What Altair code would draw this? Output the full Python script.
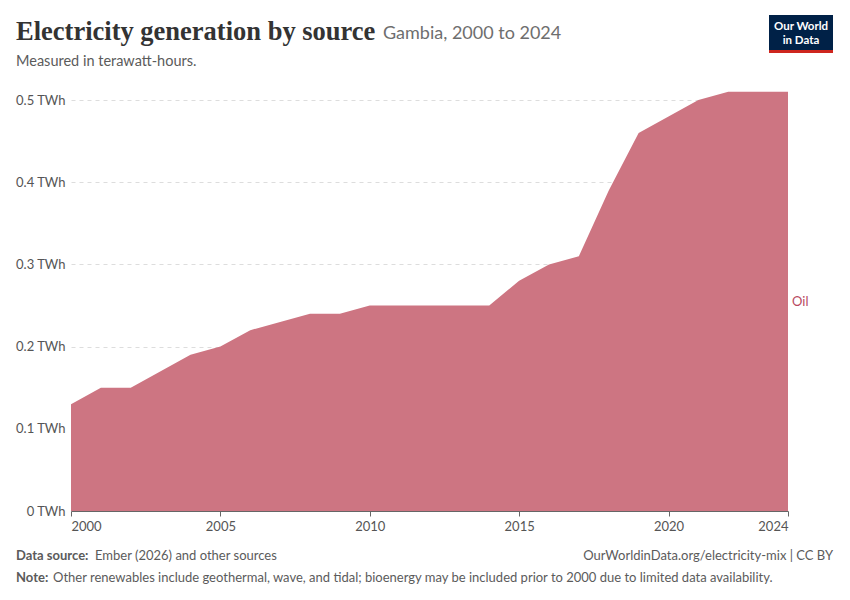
import altair as alt
import pandas as pd

years = list(range(2000, 2025))
oil = [0.13, 0.15, 0.15, 0.17, 0.19, 0.20, 0.22, 0.23, 0.24, 0.24, 0.25, 0.25, 0.25,
       0.25, 0.25, 0.28, 0.30, 0.31, 0.39, 0.46, 0.48, 0.50, 0.51, 0.51, 0.51]
xticks = [2000, 2005, 2010, 2015, 2020, 2024]
yticks = [0, 0.1, 0.2, 0.3, 0.4, 0.5]

df = pd.DataFrame({"year": years, "oil": oil})
W, H = 717, 411

base = alt.Chart(df)
area = base.mark_area(color="#cd7582", opacity=1).encode(
    x=alt.X("year:Q", scale=alt.Scale(domain=[2000, 2024], nice=False),
            axis=alt.Axis(values=xticks, format="d", title=None, grid=False,
                          domainColor="#666", tickColor="#666", labelColor="#555",
                          labelFont="Lato", labelFontSize=13, labelPadding=4,
                          labelFlush=True)),
    y=alt.Y("oil:Q", scale=alt.Scale(domain=[0, 0.5]),
            axis=alt.Axis(values=yticks, labelExpr="datum.value + ' TWh'", title=None,
                          domain=False, ticks=False, gridDash=[4, 4], gridColor="#ddd",
                          labelColor="#555", labelFont="Lato", labelFontSize=13,
                          labelPadding=6)),
)

def txt(s, x, y, size=13, color="#555", font="Lato", weight="normal", align="left"):
    return alt.Chart(pd.DataFrame({"t": [s]})).mark_text(
        text=s, fontSize=size, color=color, font=font, fontWeight=weight, align=align,
        baseline="alphabetic").encode(x=alt.value(x), y=alt.value(y))

layers = [
    area,
    txt("Electricity generation by source", -55, -60, 26.5, "#333", "Liberation Serif", "bold"),
    txt("Gambia, 2000 to 2024", 312, -61, 18, "#6e6e6e"),
    txt("Measured in terawatt-hours.", -55, -34, 14.5, "#5b5b5b"),
    txt("Oil", 721, 206, 13, "#b84a5f"),
    txt("Data source:", -55, 460, 13, "#5b5b5b", weight="bold"),
    txt("Ember (2026) and other sources", 24, 460, 13, "#5b5b5b"),
    txt("OurWorldinData.org/electricity-mix | CC BY", 762, 460, 13, "#5b5b5b", align="right"),
    txt("Note:", -55, 482, 13, "#5b5b5b", weight="bold"),
    txt("Other renewables include geothermal, wave, and tidal; bioenergy may be included prior to 2000 due to limited data availability.", -18, 482, 13, "#5b5b5b"),
    alt.Chart(pd.DataFrame({"a": [0]})).mark_rect(color="#002147").encode(
        x=alt.value(698), x2=alt.value(762), y=alt.value(-85), y2=alt.value(-50)),
    alt.Chart(pd.DataFrame({"a": [0]})).mark_rect(color="#ce261e").encode(
        x=alt.value(698), x2=alt.value(762), y=alt.value(-50), y2=alt.value(-47)),
    txt("Our World", 730, -70, 11.5, "white", "Lato", "bold", "center"),
    txt("in Data", 730, -56, 11.5, "white", "Lato", "bold", "center"),
]

chart = alt.layer(*layers).properties(
    width=W, height=H, autosize="none",
    padding={"left": 63, "top": 92, "right": 54, "bottom": 80},
).configure_view(stroke=None)

chart.save("out.html", embed_options={"renderer": "svg", "actions": False})
